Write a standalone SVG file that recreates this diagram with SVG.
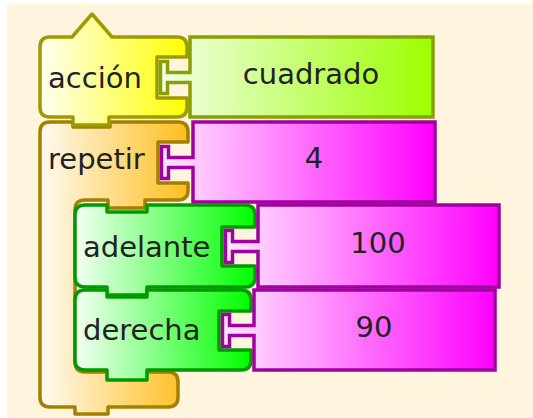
<svg xmlns="http://www.w3.org/2000/svg" width="533" height="418" viewBox="0 0 533 418">
<defs>
<linearGradient id="gY" x1="0" x2="1" y1="0" y2="0"><stop offset="0" stop-color="#FFFFF2"/><stop offset="1" stop-color="#FFFF00"/></linearGradient>
<linearGradient id="gL" x1="0" x2="1" y1="0" y2="0"><stop offset="0" stop-color="#F2FFE8"/><stop offset="1" stop-color="#9CFF00"/></linearGradient>
<linearGradient id="gO" x1="0" x2="1" y1="0" y2="0"><stop offset="0" stop-color="#FFFAF2"/><stop offset="1" stop-color="#FFBE1E"/></linearGradient>
<linearGradient id="gG" x1="0" x2="1" y1="0" y2="0"><stop offset="0" stop-color="#F4FFF4"/><stop offset="1" stop-color="#00FF00"/></linearGradient>
<linearGradient id="gM" x1="0" x2="1" y1="0" y2="0"><stop offset="0" stop-color="#FFE8FF"/><stop offset="1" stop-color="#FF00FF"/></linearGradient>
</defs>
<style>
.blk{stroke-width:3.5;stroke-linejoin:round}
.y{fill:url(#gY);stroke:#9C9C00}
.l{fill:url(#gL);stroke:#88A000;stroke-linejoin:miter}
.o{fill:url(#gO);stroke:#A38000}
.g{fill:url(#gG);stroke:#009A00}
.m{fill:url(#gM);stroke:#A000A0;stroke-linejoin:miter}
text{font-family:"DejaVu Sans","Liberation Sans",sans-serif;font-size:29px;fill:#222}
.c{text-anchor:middle}
</style>
<rect x="0" y="0" width="533" height="418" fill="#FFFFFF"/>
<rect x="7" y="4" width="526" height="414" fill="#FFF5DF"/>
<g id="repetir">
<path class="blk o" d="M40,132 Q40,122 50,122 H73 V127 H110 V122 H178 Q188,122 188,132 V142 H158 V183 H188 V190 Q188,200 178,200 H145 V208 H108 V200 H85 Q75,200 75,210 V362 Q75,372 85,372 H168 Q178,372 178,382 V397 Q178,407 168,407 H108 V414 H75 V407 H50 Q40,407 40,397 Z"/>
<text x="48" y="169">repetir</text>
</g>
<g id="accion">
<path class="blk y" d="M40,47 Q40,37 50,37 H72 L92,14 L112,37 H177 Q187,37 187,47 V57 H157 V98 H187 V107 Q187,117 177,117 H109 V125 H73 V117 H50 Q40,117 40,107 Z"/>
<text x="48" y="88">acción</text>
</g>
<g id="cuadrado">
<path class="blk l" d="M190,37 H433 V117 H190 V82.5 H167.5 V93.5 H160.5 V61.5 H167.5 V72.5 H190 Z"/>
<text class="c" x="311" y="84">cuadrado</text>
</g>
<g id="num4">
<path class="blk m" d="M193,122 H435 V202 H193 V167.5 H168.5 V178.5 H161.5 V146.5 H168.5 V157.5 H193 Z"/>
<text class="c" x="314" y="168">4</text>
</g>
<g id="adelante">
<path class="blk g" d="M75,215 Q75,205 85,205 H107 V212 H147 V205 H245 Q255,205 255,215 V227 H222 V266 H255 V277 Q255,287 245,287 H147 V295 H107 V287 H85 Q75,287 75,277 Z"/>
<text x="83" y="257">adelante</text>
</g>
<g id="derecha">
<path class="blk g" d="M75,300 Q75,290 85,290 H107 V297 H147 V290 H241 Q251,290 251,300 V311 H219 V350 H251 V360 Q251,370 241,370 H147 V380 H107 V370 H85 Q75,370 75,360 Z"/>
<text x="83" y="340">derecha</text>
</g>
<g id="num100">
<path class="blk m" d="M258,205 H499 V287 H258 V251.5 H232.5 V262.5 H225.5 V230.5 H232.5 V241.5 H258 Z"/>
<text class="c" x="378" y="253">100</text>
</g>
<g id="num90">
<path class="blk m" d="M254,290 H495 V370 H254 V335.5 H229.5 V346.5 H222.5 V314.5 H229.5 V325.5 H254 Z"/>
<text class="c" x="374" y="337">90</text>
</g>
<g id="connectors"></g>
</svg>
